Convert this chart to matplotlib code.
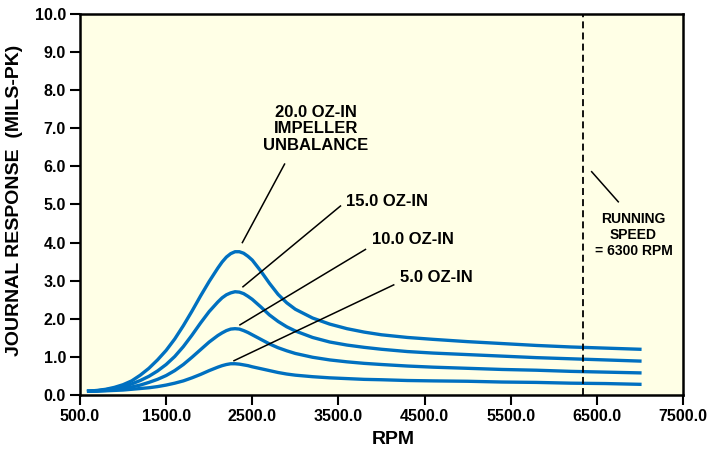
import matplotlib
matplotlib.use("Agg")
import matplotlib.pyplot as plt

plt.rcParams["font.family"] = ["Liberation Sans", "DejaVu Sans"]
plt.rcParams["font.weight"] = "bold"
plt.rcParams["lines.scale_dashes"] = False

rpm = [600, 700, 800, 900, 1000, 1100, 1200, 1300, 1400, 1500, 1600, 1700, 1800, 1900,
       2000, 2100, 2150, 2200, 2250, 2300, 2350, 2400, 2450, 2500, 2600, 2700, 2800,
       2900, 3000, 3200, 3400, 3600, 3800, 4000, 4300, 4600, 5000, 5400, 5800, 6200,
       6600, 7000]

resp_20 = [0.10, 0.12, 0.15, 0.20, 0.27, 0.37, 0.52, 0.70, 0.92, 1.17, 1.47, 1.82, 2.20, 2.60,
           2.98, 3.33, 3.49, 3.62, 3.71, 3.76, 3.76, 3.72, 3.64, 3.54, 3.25, 2.93, 2.64,
           2.42, 2.25, 2.02, 1.86, 1.74, 1.65, 1.58, 1.51, 1.46, 1.40, 1.35, 1.30, 1.26,
           1.23, 1.20]
resp_15 = [0.10, 0.11, 0.14, 0.17, 0.22, 0.29, 0.38, 0.49, 0.63, 0.80, 1.01, 1.27, 1.57, 1.89,
           2.19, 2.44, 2.55, 2.63, 2.68, 2.71, 2.70, 2.66, 2.59, 2.51, 2.31, 2.10, 1.93,
           1.79, 1.68, 1.51, 1.39, 1.31, 1.25, 1.20, 1.14, 1.10, 1.06, 1.02, 0.98, 0.95,
           0.92, 0.89]
resp_10 = [0.10, 0.11, 0.12, 0.14, 0.17, 0.21, 0.26, 0.33, 0.41, 0.51, 0.64, 0.80, 0.99, 1.19,
           1.39, 1.56, 1.63, 1.69, 1.73, 1.74, 1.73, 1.69, 1.64, 1.58, 1.46, 1.34, 1.24,
           1.16, 1.09, 0.99, 0.92, 0.87, 0.83, 0.80, 0.76, 0.73, 0.70, 0.67, 0.65, 0.62,
           0.60, 0.58]
resp_5 = [0.10, 0.10, 0.11, 0.12, 0.13, 0.15, 0.17, 0.19, 0.22, 0.26, 0.31, 0.37, 0.45, 0.54,
          0.64, 0.73, 0.77, 0.80, 0.82, 0.82, 0.81, 0.79, 0.77, 0.74, 0.69, 0.64, 0.59,
          0.55, 0.52, 0.48, 0.45, 0.43, 0.41, 0.40, 0.38, 0.37, 0.36, 0.34, 0.33, 0.31,
          0.30, 0.28]

running_speed = 6340
xticks = [500, 1500, 2500, 3500, 4500, 5500, 6500, 7500]
yticks = [0, 1, 2, 3, 4, 5, 6, 7, 8, 9, 10]

blue = "#0070C0"

fig = plt.figure(figsize=(7.09, 4.55), dpi=100)
ax = fig.add_axes([0.1128, 0.1319, 0.8505, 0.8374])
ax.set_facecolor("#FFFFE6")

for y in [resp_20, resp_15, resp_10, resp_5]:
    ax.plot(rpm, y, color=blue, lw=2.4, solid_joinstyle="round")

ax.axvline(running_speed, color="black", lw=1.3, linestyle=(0, (5, 3)))

ax.set_xlim(500, 7500)
ax.set_ylim(0, 10)
ax.set_xticks(xticks)
ax.set_xticklabels([f"{v:.1f}" for v in xticks])
ax.set_yticks(yticks)
ax.set_yticklabels([f"{v:.1f}" for v in yticks])
ax.tick_params(direction="out", length=7, width=1.5, labelsize=11.5, pad=3)
for s in ax.spines.values():
    s.set_linewidth(1.8)

ax.set_xlabel("RPM", fontsize=14, fontweight="bold")
ax.xaxis.set_label_coords(0.52, -0.095)
ax.set_ylabel("JOURNAL RESPONSE  (MILS-PK)", fontsize=14, fontweight="bold")
ax.yaxis.set_label_coords(-0.094, 0.51)

# annotations
ax.text(3235, 6.99, "20.0 OZ-IN\nIMPELLER\nUNBALANCE", ha="center", va="center",
        fontsize=12, fontweight="bold", linespacing=1.12)
ax.plot([2875, 2385], [6.06, 4.0], color="black", lw=1.1)

ax.text(3590, 5.09, "15.0 OZ-IN", ha="left", va="center", fontsize=12, fontweight="bold")
ax.plot([3524, 2392], [4.96, 2.84], color="black", lw=1.1)

ax.text(3892, 4.07, "10.0 OZ-IN", ha="left", va="center", fontsize=12, fontweight="bold")
ax.plot([3814, 2357], [3.82, 1.84], color="black", lw=1.1)

ax.text(4220, 3.09, "5.0 OZ-IN", ha="left", va="center", fontsize=12, fontweight="bold")
ax.plot([4142, 2288], [2.89, 0.90], color="black", lw=1.1)

ax.text(6925, 4.2, "RUNNING\nSPEED\n= 6300 RPM", ha="center", va="center",
        fontsize=10, fontweight="bold", linespacing=1.2)
ax.plot([6440, 6749], [5.86, 5.07], color="black", lw=1.1)

fig.savefig("out.png", dpi=100)
